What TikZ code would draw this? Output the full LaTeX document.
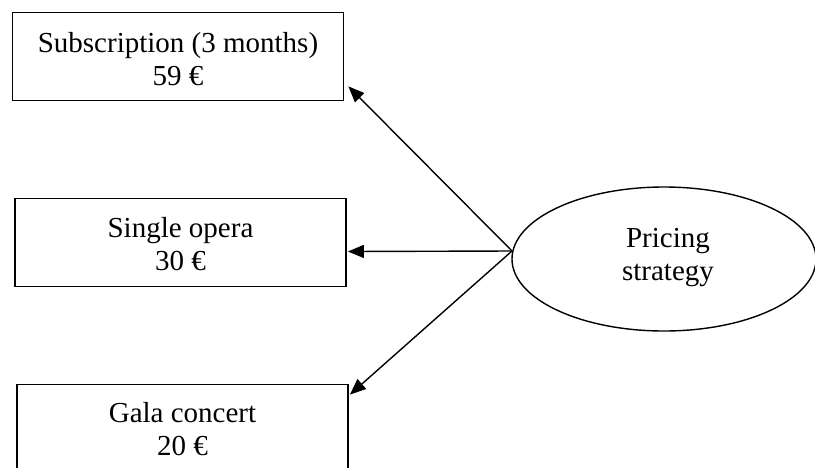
\documentclass[tikz,border=0pt]{standalone}
\usepackage{fontspec}
\setmainfont{Liberation Serif}
\usetikzlibrary{arrows.meta,shapes.geometric}

\tikzset{
  pricebox/.style={draw, line width=1.8pt, rectangle, inner sep=0pt,
    minimum width=331pt, minimum height=88pt},
  % base anchor sits on the baseline of the last line
  boxtext/.style={anchor=base, align=center, inner sep=0pt,
    font=\fontsize{29pt}{33pt}\selectfont},
  strategy/.style={draw, line width=1.4pt, ellipse, inner sep=0pt,
    minimum width=304pt, minimum height=144pt},
  link/.style={line width=1.4pt, -{Triangle[length=16pt,width=13pt]}}
}

\begin{document}
\begin{tikzpicture}[x=1pt, y=-1pt]
  \useasboundingbox (0,0) rectangle (815,467);
  \begin{scope}
    \clip (0,0) rectangle (815,467);

    % price options
    \node[pricebox] (sub)  at (178,56.5) {};
    \node[pricebox] (opera) at (180.5,242.5) {};
    \node[pricebox] (gala) at (182.5,428.5) {};

    \node[boxtext] (subtext)   at (178,85)   {Subscription (3 months)\\59 €};
    \node[boxtext] (operatext) at (180.5,270) {Single opera\\30 €};
    \node[boxtext] (galatext)  at (182.5,455) {Gala concert\\20 €};

    % pricing strategy
    \node[strategy] (ps) at (664,259) {};
    \node[boxtext] (pstext) at (668,280) {Pricing\\strategy};
    \coordinate (hub) at (512,251);

    % arrows from the strategy to each option
    \draw[link] (hub) -- ([shift={(4pt,15pt)}]sub.south east);
    \draw[link] (hub) -- ([shift={(1pt,-9pt)}]opera.east);
    \draw[link] (hub) -- ([shift={(1pt,-11pt)}]gala.north east);
  \end{scope}
\end{tikzpicture}
\end{document}
